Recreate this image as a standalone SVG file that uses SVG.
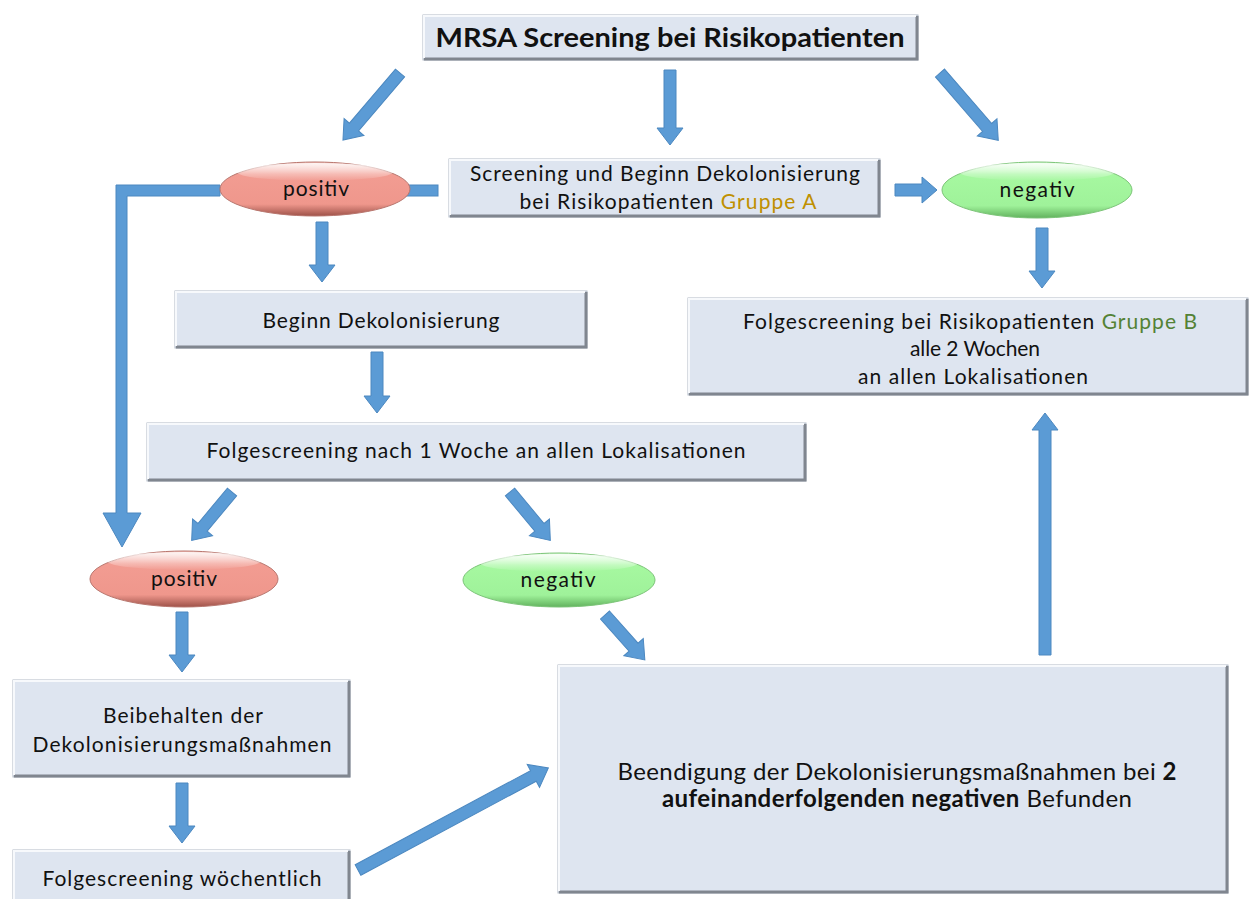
<svg xmlns="http://www.w3.org/2000/svg" width="1250" height="899" viewBox="0 0 1250 899">
<defs>
<linearGradient id="gPos" x1="0" y1="0" x2="0" y2="1">
<stop offset="0" stop-color="#F7C3BC"/><stop offset="0.22" stop-color="#F29C92"/><stop offset="0.78" stop-color="#EF978C"/><stop offset="1" stop-color="#9E5249"/>
</linearGradient>
<linearGradient id="gNeg" x1="0" y1="0" x2="0" y2="1">
<stop offset="0" stop-color="#D6FCD2"/><stop offset="0.22" stop-color="#A6F8A0"/><stop offset="0.78" stop-color="#9FF29A"/><stop offset="1" stop-color="#62B25E"/>
</linearGradient>
<linearGradient id="gHi" x1="0" y1="0" x2="0" y2="1">
<stop offset="0" stop-color="#FFFFFF" stop-opacity="0.85"/><stop offset="1" stop-color="#FFFFFF" stop-opacity="0"/>
</linearGradient>
</defs>
<style>
.box{fill:#DEE5F0;stroke:#B2BAC5;stroke-width:1}
.dk{fill:none;stroke:#80868F;stroke-width:3}
.lt{fill:none;stroke:#F7F9FC;stroke-width:2}
.arr{fill:#5B9BD5;stroke:#4C88C0;stroke-width:1}
.t{font-family:Lato,"Open Sans","Liberation Sans",sans-serif;font-size:21px;fill:#111;text-anchor:middle}
.big{font-size:24px}
.ttl{font-size:27px;font-weight:bold}
.b{font-weight:bold}
.pos{fill:url(#gPos);stroke:#B8766E;stroke-width:1}
.neg{fill:url(#gNeg);stroke:#7CC478;stroke-width:1}
</style>
<rect width="1250" height="899" fill="#FFFFFF"/>

<g id="connectors">
<polygon class="arr" points="220,185 116,185 116,513 103,513 122,547 141,513 127,513 127,196 220,196"/>
<rect class="arr" x="405" y="185" width="33" height="11"/>
<polygon class="arr" transform="translate(400,73) rotate(130.4)" points="0,-6 71,-6 71,-13 88,0 71,13 71,6 0,6"/>
<polygon class="arr" transform="translate(670,70) rotate(90)" points="0,-6 58,-6 58,-13 75,0 58,13 58,6 0,6"/>
<polygon class="arr" transform="translate(940,73) rotate(49.1)" points="0,-6 72,-6 72,-13 89,0 72,13 72,6 0,6"/>
<polygon class="arr" transform="translate(322,222) rotate(90)" points="0,-6 43,-6 43,-13 60,0 43,13 43,6 0,6"/>
<polygon class="arr" transform="translate(377,352) rotate(90)" points="0,-6 44,-6 44,-13 61,0 44,13 44,6 0,6"/>
<polygon class="arr" transform="translate(232,492) rotate(129.8)" points="0,-6 46,-6 46,-13 63,0 46,13 46,6 0,6"/>
<polygon class="arr" transform="translate(510,492) rotate(50.2)" points="0,-6 46,-6 46,-13 63,0 46,13 46,6 0,6"/>
<polygon class="arr" transform="translate(605,615) rotate(48.4)" points="0,-6 43,-6 43,-13 60,0 43,13 43,6 0,6"/>
<polygon class="arr" transform="translate(182,612) rotate(90)" points="0,-6 43,-6 43,-13 60,0 43,13 43,6 0,6"/>
<polygon class="arr" transform="translate(182,783) rotate(90)" points="0,-6 43,-6 43,-13 60,0 43,13 43,6 0,6"/>
<polygon class="arr" transform="translate(358,870) rotate(-28.2)" points="0,-6 199,-6 199,-13 216,0 199,13 199,6 0,6"/>
<polygon class="arr" transform="translate(1045,655) rotate(-90)" points="0,-6 225,-6 225,-13 242,0 225,13 225,6 0,6"/>
<polygon class="arr" transform="translate(1042,228) rotate(90)" points="0,-6 43,-6 43,-13 60,0 43,13 43,6 0,6"/>
<polygon class="arr" transform="translate(895,190) rotate(0)" points="0,-6 27,-6 27,-13 42,0 27,13 27,6 0,6"/>
</g>

<g id="title">
<rect class="box" x="423" y="15" width="495" height="45"/>
<path class="dk" d="M424,59 H917 V16"/><path class="lt" d="M424,58 V16 H916"/>
<text class="t ttl" x="670" y="47" textLength="469" lengthAdjust="spacingAndGlyphs">MRSA Screening bei Risikopatienten</text>
</g>

<g id="screening">
<rect class="box" x="449" y="159" width="431" height="58"/>
<path class="dk" d="M450,216 H879 V160"/><path class="lt" d="M450,215 V160 H878"/>
<text class="t" x="665" y="181" textLength="390" lengthAdjust="spacing">Screening und Beginn Dekolonisierung</text>
<text class="t" x="668" y="209" textLength="297" lengthAdjust="spacing">bei Risikopatienten <tspan fill="#BF9000">Gruppe A</tspan></text>
</g>

<g id="positiv1">
<ellipse class="pos" cx="315" cy="189" rx="95" ry="27"/>
<ellipse cx="315" cy="172" rx="78" ry="9" fill="url(#gHi)"/>
<text class="t" x="316" y="196" textLength="66" lengthAdjust="spacing">positiv</text>
</g>

<g id="negativ1">
<ellipse class="neg" cx="1037" cy="190" rx="95" ry="28"/>
<ellipse cx="1037" cy="172" rx="78" ry="9" fill="url(#gHi)"/>
<text class="t" x="1037" y="197" textLength="75" lengthAdjust="spacing">negativ</text>
</g>

<g id="beginn">
<rect class="box" x="175" y="291" width="412" height="57"/>
<path class="dk" d="M176,347 H586 V292"/><path class="lt" d="M176,346 V292 H585"/>
<text class="t" x="381" y="328" textLength="237" lengthAdjust="spacing">Beginn Dekolonisierung</text>
</g>

<g id="folge1">
<rect class="box" x="147" y="423" width="659" height="58"/>
<path class="dk" d="M148,480 H805 V424"/><path class="lt" d="M148,479 V424 H804"/>
<text class="t" x="476" y="458" textLength="539" lengthAdjust="spacing">Folgescreening nach 1 Woche an allen Lokalisationen</text>
</g>

<g id="folgeB">
<rect class="box" x="688" y="298" width="560" height="97"/>
<path class="dk" d="M689,394 H1247 V299"/><path class="lt" d="M689,393 V299 H1246"/>
<text class="t" x="970" y="329" textLength="454" lengthAdjust="spacing">Folgescreening bei Risikopatienten <tspan fill="#548235">Gruppe B</tspan></text>
<text class="t" x="975" y="356" textLength="130" lengthAdjust="spacing">alle 2 Wochen</text>
<text class="t" x="973" y="384" textLength="230" lengthAdjust="spacing">an allen Lokalisationen</text>
</g>

<g id="positiv2">
<ellipse class="pos" cx="184" cy="579" rx="94" ry="28"/>
<ellipse cx="184" cy="561" rx="77" ry="9" fill="url(#gHi)"/>
<text class="t" x="184" y="586" textLength="66" lengthAdjust="spacing">positiv</text>
</g>

<g id="negativ2">
<ellipse class="neg" cx="559" cy="580" rx="96" ry="27"/>
<ellipse cx="559" cy="563" rx="79" ry="9" fill="url(#gHi)"/>
<text class="t" x="558" y="587" textLength="75" lengthAdjust="spacing">negativ</text>
</g>

<g id="beibehalten">
<rect class="box" x="13" y="680" width="337" height="97"/>
<path class="dk" d="M14,776 H349 V681"/><path class="lt" d="M14,775 V681 H348"/>
<text class="t" x="183" y="723" textLength="160" lengthAdjust="spacing">Beibehalten der</text>
<text class="t" x="182" y="752" textLength="299" lengthAdjust="spacing">Dekolonisierungsmaßnahmen</text>
</g>

<g id="woechentlich">
<rect class="box" x="13" y="850" width="337" height="52"/>
<path class="dk" d="M349,851 V902"/><path class="lt" d="M14,902 V851 H348"/>
<text class="t" x="182" y="886" textLength="279" lengthAdjust="spacing">Folgescreening wöchentlich</text>
</g>

<g id="beendigung">
<rect class="box" x="558" y="665" width="670" height="228"/>
<path class="dk" d="M559,892 H1227 V666"/><path class="lt" d="M559,891 V666 H1226"/>
<text class="t big" x="897" y="780" textLength="559" lengthAdjust="spacing">Beendigung der Dekolonisierungsmaßnahmen bei <tspan class="b">2</tspan></text>
<text class="t big" x="897" y="807" textLength="470" lengthAdjust="spacing"><tspan class="b">aufeinanderfolgenden negativen</tspan> Befunden</text>
</g>
</svg>
